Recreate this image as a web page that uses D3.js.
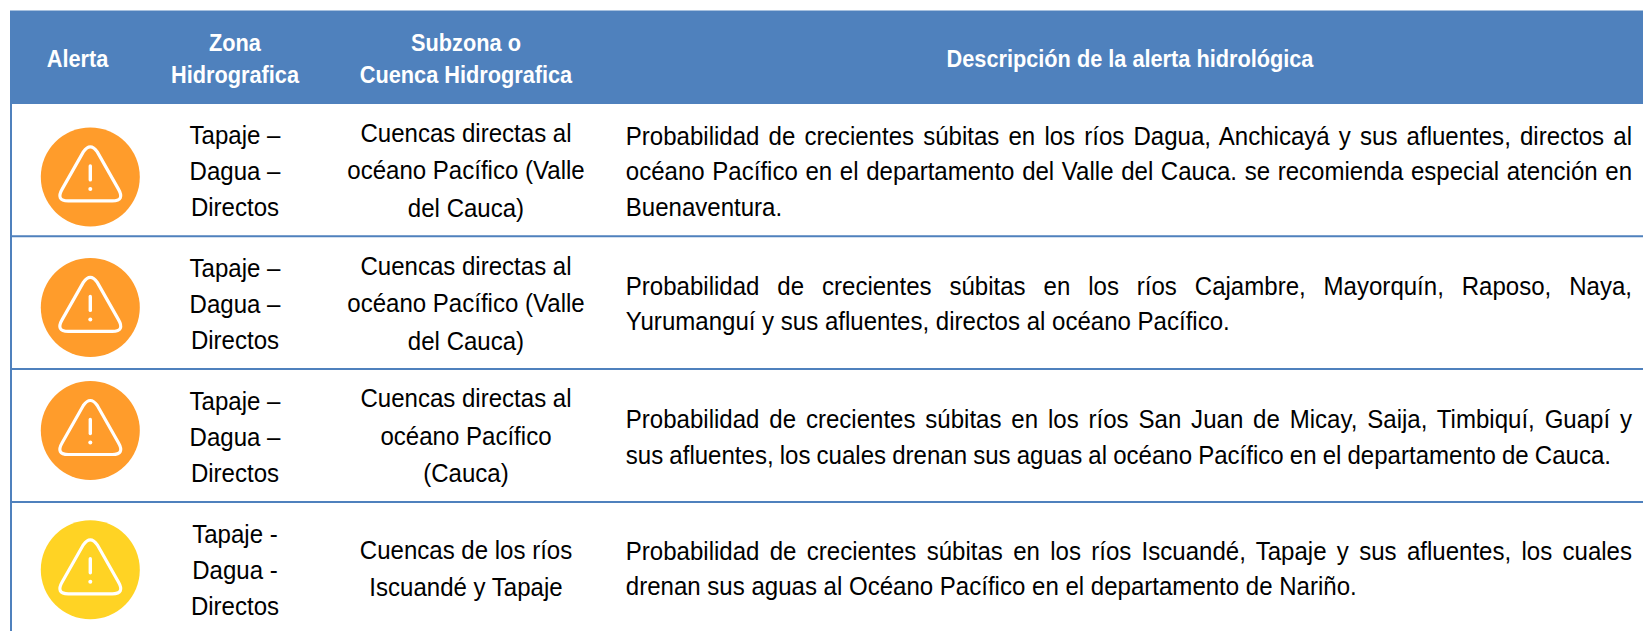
<!DOCTYPE html>
<html>
<head>
<meta charset="utf-8">
<script src="https://cdn.jsdelivr.net/npm/d3@7"></script>
<style>
  html, body { margin: 0; padding: 0; background: #fff; overflow: hidden; }
  text { font-family: "Liberation Sans", Arial, sans-serif; }
</style>
</head>
<body>
<div class="chart"></div>
<script>
// table content
var headers = [["Alerta"], ["Zona", "Hidrografica"], ["Subzona o", "Cuenca Hidrografica"], ["Descripción de la alerta hidrológica"]];
var levels = ["naranja", "naranja", "naranja", "amarilla"];
var zones = [
  ["Tapaje –", "Dagua –", "Directos"],
  ["Tapaje –", "Dagua –", "Directos"],
  ["Tapaje –", "Dagua –", "Directos"],
  ["Tapaje -", "Dagua -", "Directos"]
];
var subzones = [
  ["Cuencas directas al", "océano Pacífico (Valle", "del Cauca)"],
  ["Cuencas directas al", "océano Pacífico (Valle", "del Cauca)"],
  ["Cuencas directas al", "océano Pacífico", "(Cauca)"],
  ["Cuencas de los ríos", "Iscuandé y Tapaje"]
];
var descriptions = [
  ["Probabilidad de crecientes súbitas en los ríos Dagua, Anchicayá y sus afluentes, directos al",
   "océano Pacífico en el departamento del Valle del Cauca. se recomienda especial atención en",
   "Buenaventura."],
  ["Probabilidad de crecientes súbitas en los ríos Cajambre, Mayorquín, Raposo, Naya,",
   "Yurumanguí y sus afluentes, directos al océano Pacífico."],
  ["Probabilidad de crecientes súbitas en los ríos San Juan de Micay, Saija, Timbiquí, Guapí y",
   "sus afluentes, los cuales drenan sus aguas al océano Pacífico en el departamento de Cauca."],
  ["Probabilidad de crecientes súbitas en los ríos Iscuandé, Tapaje y sus afluentes, los cuales",
   "drenan sus aguas al Océano Pacífico en el departamento de Nariño."]
];

var width = 1643, height = 631;
var blue = "#4f81bd";

var svg = d3.select(".chart").append("svg")
  .attr("width", width)
  .attr("height", height)
  .style("display", "block");

// row tops
var rowY = d3.scaleLinear().domain([0, 4]).range([103.5, 634.7]);
var colorScale = d3.scaleOrdinal().domain(["naranja", "amarilla"]).range(["#ff9c2b", "#ffd324"]);
// column centres
var colX = d3.scaleOrdinal().domain([0, 1, 2, 3]).range([77.5, 235, 466, 1130]);
// the icons and description text do not sit at the same height in each row
var iconShift = d3.scaleOrdinal().domain([0, 1, 2, 3]).range([7, 4.7, -5, 1.5]);
var descShift = d3.scaleOrdinal().domain([0, 1, 2, 3]).range([10.2, 10, 10.7, 9.2]);

var descLeft = 625.8, descRight = 1632;
var tightRight = 1611; // last line of row 3 runs a little shorter in the source
var fontSize = 26, squeeze = 0.925;

// header band
svg.append("rect").attr("x", 10).attr("y", 10.5).attr("width", width - 10).attr("height", 93.5).attr("fill", blue);

// left border and row rules
svg.append("line").attr("x1", 11).attr("x2", 11).attr("y1", 104).attr("y2", height)
  .attr("stroke", blue).attr("stroke-width", 2);
svg.selectAll(".rule").data([1, 2, 3]).enter().append("line")
  .attr("class", "rule")
  .attr("x1", 10).attr("x2", width)
  .attr("y1", function (d) { return rowY(d); })
  .attr("y2", function (d) { return rowY(d); })
  .attr("stroke", blue).attr("stroke-width", 2);

// text squeezed sideways, the source font is narrower than Liberation
function addText(t, x, y, size, sx) {
  return svg.append("text")
    .attr("transform", "translate(" + x + "," + y + ") scale(" + sx + ",1)")
    .attr("font-size", size)
    .attr("fill", "#000")
    .text(t);
}

// header text
headers.forEach(function (lines, c) {
  lines.forEach(function (t, i) {
    addText(t, colX(c), 67 + (i - (lines.length - 1) / 2) * 32.5, 23, 0.945)
      .attr("text-anchor", "middle")
      .attr("font-weight", "bold")
      .attr("fill", "#fff");
  });
});

// centred cell lines
function centredCell(lines, c, cy, lineH) {
  lines.forEach(function (t, i) {
    addText(t, colX(c), cy + (i - (lines.length - 1) / 2) * lineH, fontSize, squeeze)
      .attr("text-anchor", "middle");
  });
}

// stretch or shrink the gaps so a line ends at the given x
function fitLine(label, t, right) {
  var gaps = t.split(" ").length - 1;
  var extra = ((right - descLeft) / squeeze - label.node().getComputedTextLength()) / gaps;
  label.attr("word-spacing", extra);
}

// warning icon
function drawIcon(level, cy) {
  var g = svg.append("g").attr("transform", "translate(" + 90.3 + "," + cy + ")");
  g.append("circle").attr("r", 49.5).attr("fill", colorScale(level));
  g.append("path")
    .attr("d", "M-7,-25 Q0,-35 7,-25 L28,12 Q35,24 22,24 L-22,24 Q-35,24 -28,12 Z")
    .attr("fill", "none").attr("stroke", "#fff").attr("stroke-width", 3.2);
  g.append("line").attr("x1", 0).attr("x2", 0).attr("y1", -11).attr("y2", 3)
    .attr("stroke", "#fff").attr("stroke-width", 3.4).attr("stroke-linecap", "round");
  g.append("circle").attr("cy", 12).attr("r", 2).attr("fill", "#fff");
}

levels.forEach(function (level, r) {
  var cy = (rowY(r) + rowY(r + 1)) / 2;
  drawIcon(level, cy + iconShift(r));
  centredCell(zones[r], 1, cy + 10.5, 36);
  centredCell(subzones[r], 2, cy + 9.3, 37.5);

  var n = descriptions[r].length;
  descriptions[r].forEach(function (t, i) {
    var label = addText(t, descLeft, cy + descShift(r) + (i - (n - 1) / 2) * 35.5, fontSize, squeeze);
    // justify every line but the last
    if (i < n - 1) fitLine(label, t, descRight);
    else if (r == 2) fitLine(label, t, tightRight);
  });
});
</script>
</body>
</html>
